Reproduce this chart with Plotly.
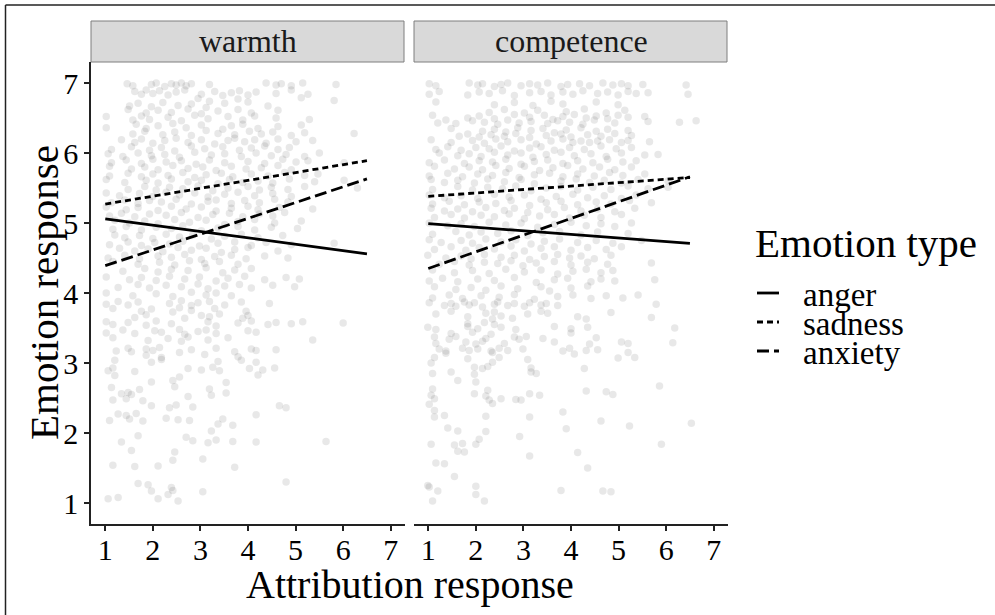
import plotly.graph_objects as go

W, H = 995, 615
FONT = "Liberation Serif"

# ---------------- data ----------------
panels = ["warmth", "competence"]
emotions = ["anger", "sadness", "anxiety"]
dashes = {"anger": "solid", "sadness": "6px,4px", "anxiety": "12px,5px"}

fit_x = [1.0, 6.5]
warmth_fit = {"anger": [5.06, 4.56], "sadness": [5.27, 5.89], "anxiety": [4.39, 5.63]}
competence_fit = {"anger": [4.99, 4.71], "sadness": [5.38, 5.65], "anxiety": [4.35, 5.66]}

x_ticks = [1, 2, 3, 4, 5, 6, 7]
y_ticks = [1, 2, 3, 4, 5, 6, 7]

# scatter points, written row by row (x values and matching y values)
warmth_x_rows = [
    [1.46, 1.58, 1.97, 2.07, 2.25, 2.39, 2.49, 2.60, 2.70, 2.81, 3.19, 4.38, 4.59, 4.70, 4.91, 5.15, 5.85],
    [1.62, 1.76, 1.86, 2.00, 2.14, 2.32, 2.49, 2.67, 3.02, 3.30, 3.47, 3.65, 3.82, 4.00, 4.17, 4.59, 4.91, 5.26],
    [2.95, 3.19, 3.79, 4.00, 5.12, 5.81],
    [1.51, 1.69, 1.97, 2.21, 2.53, 2.81, 3.12, 3.51, 4.42],
    [1.48, 1.86, 2.11, 2.39, 2.74, 3.02, 3.37, 3.79, 4.07, 4.63],
    [1.02, 1.58, 1.76, 1.93, 2.32, 2.60, 2.88, 3.16, 3.58, 3.89, 4.14, 4.59, 5.29],
    [1.02, 1.65, 1.86, 2.11, 2.42, 2.70, 3.02, 3.47, 3.65, 3.89, 4.21, 4.63, 5.12],
    [1.58, 1.83, 2.21, 2.46, 2.81, 3.12, 3.37, 3.72, 4.03, 4.28, 4.52, 4.91, 5.19, 6.23],
    [1.34, 1.62, 1.76, 2.00, 2.25, 2.49, 2.74, 3.02, 3.30, 3.58, 3.72, 3.93, 4.14, 4.38, 4.63, 5.01, 5.36],
    [1.13, 1.55, 1.93, 2.18, 2.46, 2.81, 3.09, 3.47, 3.82, 4.07, 4.35, 4.63, 4.87],
    [1.06, 1.37, 1.69, 1.97, 2.25, 2.56, 2.88, 3.23, 3.51, 3.86, 4.17, 4.49, 4.80, 5.19, 5.50],
    [1.13, 1.44, 1.76, 2.00, 2.28, 2.60, 2.91, 3.19, 3.51, 4.00, 4.35, 4.73, 5.01, 5.26, 6.02],
    [1.09, 1.55, 1.83, 2.11, 2.42, 2.74, 3.05, 3.33, 3.65, 3.96, 4.28, 4.63, 4.91],
    [1.09, 1.48, 1.76, 2.00, 2.32, 2.63, 2.88, 3.12, 3.44, 3.68, 4.07, 4.42, 4.77, 5.19, 5.47],
    [1.02, 1.41, 1.86, 2.11, 2.39, 2.74, 3.02, 3.37, 3.61, 3.89, 4.21, 4.52, 4.87, 5.40, 6.02],
    [1.48, 1.83, 2.07, 2.35, 2.63, 2.95, 3.26, 3.58, 4.00, 4.24, 4.49, 4.84, 5.19, 6.30],
    [1.02, 1.30, 1.72, 2.00, 2.28, 2.56, 2.88, 3.16, 3.51, 3.79, 4.14, 4.52, 4.91],
    [1.13, 1.41, 1.69, 1.93, 2.18, 2.49, 2.81, 3.16, 3.33, 3.65, 3.93, 4.24, 4.56, 4.84],
    [1.02, 1.44, 1.69, 2.11, 2.39, 2.70, 3.02, 3.33, 3.65, 4.00, 4.21, 4.66, 5.36],
    [1.09, 1.34, 1.62, 1.93, 2.28, 2.60, 2.95, 3.26, 3.61, 3.89, 4.24, 4.52, 4.77],
    [1.20, 1.51, 1.83, 2.11, 2.46, 2.77, 3.12, 3.51, 3.79, 4.14, 4.56, 5.12],
    [1.16, 1.44, 1.76, 2.07, 2.39, 2.63, 3.02, 3.37, 3.79, 4.14, 4.49, 5.04],
    [1.20, 1.41, 1.72, 2.00, 2.28, 2.56, 2.84, 3.23, 3.51, 3.86, 4.21, 4.73],
    [1.09, 1.48, 1.76, 2.04, 2.35, 2.63, 2.98, 3.37, 3.72, 4.07, 4.38, 4.91, 5.81],
    [1.30, 1.62, 1.90, 2.21, 2.53, 2.81, 3.12, 3.44, 3.72, 4.00, 4.63],
    [1.06, 1.41, 1.72, 2.11, 2.39, 2.67, 3.02, 3.30, 3.65, 3.96, 4.35, 4.84],
    [1.16, 1.69, 2.14, 2.46, 2.77, 3.09, 3.40, 3.79],
    [1.37, 1.83, 2.11, 2.39, 2.74, 3.12, 3.47, 3.72, 4.07],
    [1.02, 1.51, 1.76, 2.07, 2.35, 2.67, 2.98, 3.33, 3.58, 3.93, 4.35, 4.80, 5.08],
    [1.27, 1.69, 1.93, 2.28, 2.60, 2.95, 3.16, 3.51, 3.82, 4.07, 4.52, 4.98],
    [1.02, 1.58, 2.07, 2.42, 2.81, 3.12, 3.33, 3.65],
    [1.02, 1.27, 1.48, 1.69, 2.35, 2.60, 2.81, 2.95, 3.19, 3.51, 3.86, 4.45],
    [1.16, 1.76, 1.97, 2.42, 2.56, 2.81, 3.30, 3.96],
    [1.62, 1.86, 2.67, 3.02, 3.19, 3.40, 3.89, 4.00],
    [1.02, 1.16, 1.48, 1.86, 2.07, 2.39, 3.16, 3.33, 3.79, 4.07, 4.42, 4.59, 4.91, 5.15, 6.00],
    [1.02, 1.37, 1.62, 2.04, 2.18, 2.56, 2.67, 2.95, 3.12, 3.33, 4.00, 4.17],
    [1.16, 1.90, 2.32, 2.60, 2.74, 3.16, 3.58, 5.36],
    [1.23, 1.48, 1.55, 1.86, 2.00, 2.14, 2.56, 2.81, 3.33, 3.72, 4.07, 4.17, 4.59],
    [1.86, 2.18, 3.09, 3.79],
    [1.20, 1.97, 2.18, 3.37, 3.86, 4.17],
    [1.06, 1.16, 1.62, 2.74, 3.02, 3.26, 3.40, 4.03, 4.31, 4.56],
    [1.20, 2.56, 4.21],
    [1.97, 2.42, 3.54],
    [1.13, 1.72, 2.46, 3.19],
    [1.34, 1.48, 1.55, 3.54],
    [2.74, 3.23],
    [1.16, 1.44, 1.79],
    [1.97, 2.35, 2.49, 2.84, 4.66, 4.80],
    [1.27, 1.44, 1.65, 4.17],
    [1.09, 1.51, 1.79, 2.28, 2.53, 2.77, 3.47],
    [3.37, 3.68],
    [3.23],
    [1.69, 2.70],
    [1.34, 2.84, 3.16, 3.33, 3.68, 4.17, 5.64],
    [1.55, 2.46],
    [2.42, 3.05],
    [1.16, 1.62, 2.11, 3.72],
    [1.69, 1.90, 4.80],
    [2.39],
    [1.97, 2.42, 3.05],
    [2.32],
    [1.06, 1.27, 2.11],
    [2.53],
]
warmth_y_rows = [
    [6.99, 6.96, 6.98, 7.00, 6.95, 6.99, 6.97, 7.00, 6.96, 6.99, 6.98, 7.00, 6.97, 6.99, 6.96, 7.00, 6.98],
    [6.88, 6.84, 6.90, 6.85, 6.89, 6.83, 6.87, 6.90, 6.84, 6.88, 6.82, 6.86, 6.89, 6.83, 6.87, 6.85, 6.90, 6.84],
    [6.78, 6.74, 6.77, 6.73, 6.79, 6.75],
    [6.67, 6.71, 6.66, 6.72, 6.68, 6.70, 6.65, 6.71, 6.67],
    [6.62, 6.57, 6.61, 6.58, 6.63, 6.56, 6.60, 6.62, 6.57, 6.61],
    [6.52, 6.47, 6.53, 6.48, 6.51, 6.46, 6.54, 6.49, 6.52, 6.47, 6.53, 6.50, 6.48],
    [6.36, 6.41, 6.35, 6.39, 6.42, 6.36, 6.40, 6.34, 6.39, 6.41, 6.35, 6.38, 6.40],
    [6.27, 6.31, 6.26, 6.30, 6.25, 6.32, 6.28, 6.26, 6.31, 6.27, 6.30, 6.25, 6.29, 6.28],
    [6.19, 6.15, 6.20, 6.14, 6.18, 6.21, 6.15, 6.19, 6.13, 6.18, 6.21, 6.16, 6.19, 6.14, 6.20, 6.16, 6.18],
    [6.05, 6.09, 6.04, 6.08, 6.03, 6.10, 6.06, 6.09, 6.04, 6.07, 6.10, 6.05, 6.08],
    [5.99, 5.95, 6.00, 5.96, 5.98, 5.94, 6.01, 5.97, 5.99, 5.95, 6.00, 5.96, 5.98, 5.95, 6.00],
    [5.86, 5.90, 5.85, 5.91, 5.87, 5.89, 5.84, 5.90, 5.86, 5.88, 5.85, 5.91, 5.87, 5.89, 5.86],
    [5.81, 5.77, 5.80, 5.76, 5.82, 5.78, 5.80, 5.75, 5.81, 5.77, 5.79, 5.82, 5.76],
    [5.67, 5.71, 5.66, 5.70, 5.68, 5.72, 5.65, 5.69, 5.71, 5.66, 5.70, 5.67, 5.72, 5.68, 5.70],
    [5.62, 5.58, 5.61, 5.57, 5.63, 5.59, 5.61, 5.56, 5.62, 5.58, 5.60, 5.57, 5.63, 5.59, 5.61],
    [5.48, 5.52, 5.47, 5.51, 5.49, 5.53, 5.46, 5.50, 5.52, 5.47, 5.51, 5.48, 5.52, 5.50],
    [5.43, 5.39, 5.42, 5.38, 5.44, 5.40, 5.43, 5.37, 5.41, 5.44, 5.39, 5.42, 5.38],
    [5.29, 5.33, 5.28, 5.32, 5.30, 5.34, 5.27, 5.31, 5.33, 5.28, 5.32, 5.29, 5.34, 5.30],
    [5.23, 5.19, 5.22, 5.18, 5.24, 5.20, 5.23, 5.17, 5.21, 5.24, 5.19, 5.22, 5.20],
    [5.10, 5.14, 5.09, 5.13, 5.11, 5.15, 5.08, 5.12, 5.14, 5.09, 5.13, 5.10, 5.15],
    [5.04, 5.00, 5.03, 4.99, 5.05, 5.01, 5.04, 4.98, 5.02, 5.05, 5.00, 5.03],
    [4.91, 4.95, 4.90, 4.94, 4.92, 4.96, 4.89, 4.93, 4.95, 4.90, 4.94, 4.92],
    [4.83, 4.79, 4.82, 4.78, 4.84, 4.80, 4.83, 4.77, 4.81, 4.84, 4.79, 4.82],
    [4.69, 4.73, 4.68, 4.72, 4.70, 4.74, 4.67, 4.71, 4.73, 4.68, 4.72, 4.69, 4.71],
    [4.64, 4.60, 4.63, 4.59, 4.65, 4.61, 4.64, 4.58, 4.62, 4.65, 4.60],
    [4.50, 4.54, 4.49, 4.53, 4.51, 4.55, 4.48, 4.52, 4.54, 4.49, 4.53, 4.50],
    [4.45, 4.41, 4.44, 4.40, 4.46, 4.42, 4.45, 4.41],
    [4.31, 4.35, 4.30, 4.34, 4.32, 4.36, 4.29, 4.33, 4.35],
    [4.23, 4.19, 4.22, 4.18, 4.24, 4.20, 4.23, 4.17, 4.21, 4.24, 4.19, 4.22, 4.20],
    [4.08, 4.12, 4.07, 4.11, 4.09, 4.13, 4.06, 4.10, 4.12, 4.07, 4.11, 4.09],
    [4.00, 3.96, 3.99, 3.95, 4.01, 3.97, 4.00, 3.96],
    [3.84, 3.88, 3.83, 3.87, 3.85, 3.89, 3.82, 3.86, 3.88, 3.83, 3.87, 3.85],
    [3.78, 3.74, 3.77, 3.73, 3.79, 3.75, 3.78, 3.74],
    [3.65, 3.69, 3.64, 3.68, 3.66, 3.70, 3.64, 3.68],
    [3.59, 3.55, 3.58, 3.54, 3.60, 3.56, 3.59, 3.53, 3.57, 3.60, 3.55, 3.58, 3.56, 3.59, 3.57],
    [3.43, 3.47, 3.42, 3.46, 3.44, 3.48, 3.41, 3.45, 3.47, 3.42, 3.46, 3.44],
    [3.36, 3.32, 3.35, 3.31, 3.37, 3.33, 3.36, 3.33],
    [3.17, 3.21, 3.16, 3.20, 3.18, 3.22, 3.15, 3.19, 3.21, 3.16, 3.20, 3.18, 3.19],
    [3.11, 3.08, 3.12, 3.09],
    [3.04, 3.01, 3.05, 3.02, 3.04, 3.01],
    [2.89, 2.93, 2.88, 2.92, 2.90, 2.94, 2.89, 2.92, 2.90, 2.93],
    [2.82, 2.80, 2.83],
    [2.73, 2.75, 2.72],
    [2.65, 2.62, 2.66, 2.63],
    [2.56, 2.58, 2.55, 2.57],
    [2.52, 2.54],
    [2.47, 2.49, 2.46],
    [2.39, 2.36, 2.40, 2.37, 2.39, 2.36],
    [2.27, 2.25, 2.28, 2.26],
    [2.18, 2.20, 2.17, 2.21, 2.19, 2.18, 2.20],
    [2.13, 2.11],
    [2.03],
    [1.96, 1.94],
    [1.87, 1.89, 1.86, 1.90, 1.88, 1.87, 1.88],
    [1.75, 1.73],
    [1.61, 1.63],
    [1.54, 1.52, 1.53, 1.51],
    [1.28, 1.26, 1.30],
    [1.22],
    [1.17, 1.18, 1.16],
    [1.12],
    [1.06, 1.08, 1.06],
    [1.03],
]

competence_x_rows = [
    [1.02, 1.16, 1.86, 2.04, 2.14, 2.39, 2.53, 2.67, 2.95, 3.13, 3.30, 3.51, 3.79, 3.93, 4.18, 4.39, 4.67, 4.88, 5.06, 5.20, 5.51, 6.42],
    [1.02, 1.23, 1.83, 2.07, 2.28, 2.56, 2.81, 3.13, 3.37, 3.58, 3.83, 4.04, 4.25, 4.56, 4.77, 4.99, 5.20, 5.37, 5.62, 6.46],
    [1.16, 2.39, 2.81, 3.20, 3.58, 3.83, 4.53, 4.99],
    [2.28, 2.60, 3.02, 3.30, 3.90, 4.28, 4.74, 5.13],
    [1.09, 1.83, 2.07, 2.39, 2.81, 3.13, 3.44, 3.62, 3.83, 4.07, 4.32, 4.53, 4.77, 4.99, 5.20, 5.55],
    [1.20, 1.37, 1.58, 1.93, 2.18, 2.46, 2.67, 2.91, 3.16, 3.51, 3.72, 3.97, 4.25, 4.49, 4.92, 5.62, 6.28, 6.63],
    [1.48, 2.14, 2.39, 2.63, 2.88, 3.16, 3.41, 3.65, 3.90, 4.21, 4.53, 4.77, 5.20],
    [1.65, 1.83, 2.07, 2.32, 2.60, 2.84, 3.13, 3.48, 3.79, 4.00, 4.35, 4.63, 4.92, 5.27],
    [1.06, 1.48, 1.93, 2.18, 2.42, 2.67, 2.95, 3.27, 3.58, 3.83, 4.04, 4.21, 4.39, 4.56, 4.81, 5.06, 5.20, 5.65],
    [1.16, 1.41, 1.69, 2.00, 2.28, 2.53, 2.81, 3.13, 3.37, 3.65, 3.97, 4.28, 4.63, 4.95, 5.27],
    [1.23, 1.62, 1.86, 2.11, 2.39, 2.67, 2.95, 3.20, 3.48, 3.79, 4.07, 4.42, 4.74, 5.06, 5.55, 5.83],
    [1.02, 1.34, 1.76, 2.07, 2.35, 2.63, 2.95, 3.23, 3.51, 3.83, 4.14, 4.46, 4.77, 5.09, 5.37],
    [1.13, 1.55, 1.86, 2.14, 2.42, 2.70, 3.02, 3.34, 3.62, 3.93, 4.25, 4.60, 4.92, 5.27],
    [1.02, 1.41, 1.72, 2.04, 2.35, 2.63, 2.91, 3.23, 3.55, 3.83, 4.14, 4.49, 4.81, 5.09, 5.55],
    [1.06, 1.34, 1.62, 1.97, 2.25, 2.60, 2.95, 3.23, 3.79, 4.11, 4.39, 4.70, 5.06, 5.41, 6.04],
    [1.09, 1.62, 1.93, 2.25, 2.56, 2.84, 3.16, 3.48, 3.79, 4.14, 4.46, 4.84, 5.20, 5.62, 6.04],
    [1.02, 1.34, 1.69, 2.04, 2.39, 2.70, 3.02, 3.37, 3.69, 4.04, 4.35, 4.70, 5.06, 5.37],
    [1.09, 1.44, 1.76, 2.07, 2.42, 2.74, 3.13, 3.48, 3.79, 4.14, 4.53, 4.84, 5.23, 5.69],
    [1.06, 1.34, 1.62, 1.93, 2.21, 2.60, 2.81, 3.09, 3.51, 3.86, 4.21, 4.56, 4.92, 5.34],
    [1.13, 1.48, 1.76, 2.11, 2.39, 2.70, 3.02, 3.34, 3.65, 3.97, 4.28, 4.63, 5.06],
    [1.02, 1.41, 1.69, 1.97, 2.28, 2.63, 2.95, 3.30, 3.65, 4.00, 4.32, 4.63, 4.92, 5.27],
    [1.09, 1.58, 1.86, 2.11, 2.46, 2.74, 3.09, 3.41, 3.76, 4.21, 4.56, 5.20],
    [1.02, 1.27, 1.69, 1.93, 2.21, 2.53, 2.84, 3.16, 3.44, 3.76, 4.14, 4.53, 4.88, 5.48],
    [1.13, 1.48, 1.79, 2.07, 2.39, 2.74, 3.02, 3.37, 3.65, 4.00, 4.35, 4.74, 5.06],
    [0.99, 1.37, 1.69, 1.90, 2.18, 2.53, 2.81, 3.13, 3.44, 3.72, 3.97, 4.21, 4.49, 4.84],
    [1.23, 1.55, 1.86, 2.18, 2.46, 2.74, 2.99, 3.27, 3.65, 4.00, 4.35, 4.77, 5.69],
    [1.09, 1.55, 1.93, 2.28, 2.63, 3.02, 3.37, 3.72, 4.04, 4.32, 4.63, 4.88],
    [1.02, 1.30, 1.62, 2.04, 2.39, 2.81, 3.27, 3.65, 3.93, 4.42, 4.63, 4.92, 5.76],
    [1.13, 1.58, 1.90, 2.21, 2.53, 2.88, 3.37, 3.55, 4.00, 4.35],
    [1.09, 1.44, 1.72, 2.11, 2.49, 2.81, 3.23, 3.72, 4.04, 4.42, 4.74, 5.09, 5.41],
    [1.02, 1.34, 1.48, 1.58, 1.76, 1.86, 1.97, 2.14, 2.39, 2.46, 2.67, 2.81, 3.02, 3.13, 3.37, 3.48, 3.72, 5.79],
    [1.16, 1.48, 2.21, 2.39, 3.09, 3.37, 3.51, 4.84],
    [1.83, 2.35, 2.53, 2.77, 4.14, 4.32, 5.69],
    [1.83, 2.18, 2.39],
    [0.99, 1.16, 1.83, 2.04, 2.53, 2.84, 3.65, 4.00, 4.35, 6.18],
    [1.48, 1.93, 2.32, 4.00],
    [1.13, 1.44, 1.58, 2.21, 2.81, 2.91, 3.06, 3.41, 4.53],
    [1.16, 1.79, 2.00, 2.14, 2.60, 3.65, 4.39, 5.06, 5.20, 6.14],
    [1.23, 1.37, 1.72, 1.86, 2.04, 2.32, 2.49, 2.67, 2.99, 3.83, 3.97, 4.32, 4.56],
    [1.37, 2.35, 4.07, 5.20],
    [1.13, 1.83, 2.49, 3.09, 4.99, 5.34],
    [1.06, 2.35],
    [1.97, 2.14, 2.25, 3.16, 4.28],
    [1.09, 1.48, 1.97, 3.16, 3.27],
    [1.62, 2.00],
    [5.86],
    [1.09, 2.25],
    [4.32, 4.74],
    [1.06, 1.97, 2.21, 3.13, 3.34, 4.88],
    [1.13, 2.28, 2.53, 2.84, 2.95],
    [1.02, 2.35],
    [1.13, 3.83],
    [1.13, 1.34, 2.21, 3.13],
    [4.63],
    [6.53],
    [5.23],
    [1.41, 3.90],
    [1.62, 2.21],
    [2.92],
    [2.07],
    [1.06, 1.55, 1.72, 2.00, 5.90],
    [1.62, 1.76],
    [4.14],
    [3.13],
    [1.16, 1.34],
    [4.35],
    [1.55],
    [0.99, 1.02, 2.00],
    [1.20, 3.79, 4.67, 4.84],
    [2.00],
    [1.09, 2.18],
]
competence_y_rows = [
    [6.99, 6.96, 7.00, 6.97, 6.99, 6.95, 6.98, 7.00, 6.96, 6.99, 6.97, 7.00, 6.95, 6.98, 6.99, 6.96, 7.00, 6.97, 6.99, 6.96, 6.98, 6.97],
    [6.84, 6.88, 6.83, 6.87, 6.85, 6.89, 6.82, 6.86, 6.88, 6.83, 6.87, 6.84, 6.89, 6.85, 6.87, 6.83, 6.88, 6.85, 6.86, 6.84],
    [6.73, 6.69, 6.72, 6.68, 6.74, 6.70, 6.73, 6.69],
    [6.58, 6.62, 6.57, 6.61, 6.59, 6.63, 6.57, 6.61],
    [6.54, 6.50, 6.53, 6.49, 6.55, 6.51, 6.54, 6.48, 6.52, 6.55, 6.50, 6.53, 6.49, 6.54, 6.51, 6.52],
    [6.43, 6.47, 6.42, 6.46, 6.44, 6.41, 6.47, 6.43, 6.45, 6.42, 6.46, 6.44, 6.41, 6.47, 6.43, 6.45, 6.44, 6.46],
    [6.35, 6.31, 6.34, 6.30, 6.36, 6.32, 6.35, 6.29, 6.33, 6.36, 6.31, 6.34, 6.32],
    [6.24, 6.27, 6.23, 6.26, 6.24, 6.28, 6.22, 6.25, 6.27, 6.23, 6.26, 6.24, 6.28, 6.25],
    [6.19, 6.15, 6.18, 6.14, 6.20, 6.16, 6.19, 6.13, 6.17, 6.20, 6.15, 6.17, 6.15, 6.17, 6.19, 6.15, 6.18, 6.16],
    [6.05, 6.09, 6.04, 6.08, 6.06, 6.10, 6.03, 6.07, 6.09, 6.04, 6.08, 6.05, 6.10, 6.06, 6.08],
    [6.00, 5.96, 5.99, 5.95, 6.01, 5.97, 6.00, 5.94, 5.98, 6.01, 5.96, 5.99, 5.95, 6.00, 5.97, 5.98],
    [5.86, 5.90, 5.85, 5.89, 5.87, 5.91, 5.84, 5.88, 5.90, 5.85, 5.89, 5.86, 5.91, 5.87, 5.89],
    [5.81, 5.77, 5.80, 5.76, 5.82, 5.78, 5.81, 5.75, 5.79, 5.82, 5.77, 5.80, 5.76, 5.80],
    [5.67, 5.71, 5.66, 5.70, 5.68, 5.72, 5.65, 5.69, 5.71, 5.66, 5.70, 5.67, 5.72, 5.68, 5.70],
    [5.62, 5.58, 5.61, 5.57, 5.63, 5.59, 5.62, 5.56, 5.60, 5.63, 5.58, 5.61, 5.57, 5.62, 5.60],
    [5.48, 5.52, 5.47, 5.51, 5.49, 5.53, 5.46, 5.50, 5.52, 5.47, 5.51, 5.48, 5.53, 5.49, 5.51],
    [5.40, 5.36, 5.39, 5.35, 5.41, 5.37, 5.40, 5.34, 5.38, 5.41, 5.36, 5.39, 5.35, 5.40],
    [5.27, 5.31, 5.26, 5.30, 5.28, 5.32, 5.25, 5.29, 5.31, 5.26, 5.30, 5.27, 5.32, 5.29],
    [5.21, 5.17, 5.20, 5.16, 5.22, 5.18, 5.21, 5.15, 5.19, 5.22, 5.17, 5.20, 5.16, 5.21],
    [5.08, 5.12, 5.07, 5.11, 5.09, 5.13, 5.06, 5.10, 5.12, 5.07, 5.11, 5.08, 5.12],
    [5.00, 4.96, 4.99, 4.95, 5.01, 4.97, 5.00, 4.94, 4.98, 5.01, 4.96, 4.99, 4.95, 5.00],
    [4.84, 4.88, 4.83, 4.87, 4.85, 4.89, 4.82, 4.86, 4.88, 4.83, 4.87, 4.85],
    [4.76, 4.72, 4.75, 4.71, 4.77, 4.73, 4.76, 4.70, 4.74, 4.77, 4.72, 4.75, 4.71, 4.75],
    [4.62, 4.66, 4.61, 4.65, 4.63, 4.67, 4.60, 4.64, 4.66, 4.61, 4.65, 4.62, 4.66],
    [4.54, 4.50, 4.53, 4.49, 4.55, 4.51, 4.54, 4.48, 4.52, 4.55, 4.50, 4.53, 4.49, 4.54],
    [4.41, 4.45, 4.40, 4.44, 4.42, 4.46, 4.39, 4.43, 4.45, 4.40, 4.44, 4.41, 4.43],
    [4.33, 4.29, 4.32, 4.28, 4.34, 4.30, 4.33, 4.27, 4.31, 4.34, 4.29, 4.32],
    [4.17, 4.21, 4.16, 4.20, 4.18, 4.22, 4.15, 4.19, 4.21, 4.16, 4.20, 4.17, 4.19],
    [4.09, 4.05, 4.08, 4.04, 4.10, 4.06, 4.09, 4.03, 4.07, 4.10],
    [3.93, 3.97, 3.92, 3.96, 3.94, 3.98, 3.91, 3.95, 3.97, 3.92, 3.96, 3.93, 3.97],
    [3.86, 3.82, 3.85, 3.81, 3.87, 3.83, 3.86, 3.80, 3.84, 3.87, 3.82, 3.85, 3.81, 3.86, 3.83, 3.85, 3.82, 3.84],
    [3.70, 3.74, 3.71, 3.73, 3.70, 3.74, 3.71, 3.72],
    [3.66, 3.63, 3.67, 3.64, 3.66, 3.63, 3.65],
    [3.56, 3.58, 3.55],
    [3.51, 3.48, 3.52, 3.49, 3.51, 3.48, 3.52, 3.49, 3.51, 3.50],
    [3.42, 3.44, 3.41, 3.43],
    [3.37, 3.34, 3.38, 3.35, 3.37, 3.34, 3.38, 3.35, 3.36],
    [3.28, 3.30, 3.27, 3.31, 3.28, 3.30, 3.27, 3.30, 3.28, 3.29],
    [3.20, 3.17, 3.21, 3.18, 3.20, 3.17, 3.21, 3.18, 3.20, 3.17, 3.21, 3.18, 3.19],
    [3.14, 3.15, 3.13, 3.15],
    [3.08, 3.06, 3.08, 3.05, 3.07, 3.08],
    [3.00, 3.01],
    [2.94, 2.92, 2.95, 2.93, 2.92],
    [2.85, 2.87, 2.84, 2.87, 2.85],
    [2.75, 2.73],
    [2.67],
    [2.63, 2.61],
    [2.60, 2.59],
    [2.54, 2.56, 2.53, 2.56, 2.54, 2.55],
    [2.49, 2.47, 2.49, 2.48, 2.47],
    [2.41, 2.42],
    [2.32, 2.30],
    [2.23, 2.25, 2.24, 2.23],
    [2.17],
    [2.14],
    [2.10],
    [2.07, 2.06],
    [2.03, 2.02],
    [1.95],
    [1.91],
    [1.84, 1.83, 1.85, 1.84, 1.84],
    [1.74, 1.73],
    [1.72],
    [1.67],
    [1.57, 1.56],
    [1.50],
    [1.38],
    [1.25, 1.23, 1.24],
    [1.17, 1.18, 1.17, 1.16],
    [1.12],
    [1.03, 1.03],
]


def flatten(x_rows, y_rows):
    xs, ys = [], []
    for xr, yr in zip(x_rows, y_rows):
        for x, y in zip(xr, yr):
            xs.append(x)
            ys.append(y)
    return xs, ys


scatter = {
    "warmth": flatten(warmth_x_rows, warmth_y_rows),
    "competence": flatten(competence_x_rows, competence_y_rows),
}
fits = {"warmth": warmth_fit, "competence": competence_fit}


# ---------------- figure ----------------
def px_x(p):
    return p / W


def px_y(p):
    return 1 - p / H


fig = go.Figure()
axes = [("x", "y"), ("x2", "y2")]
for (xa, ya), panel in zip(axes, panels):
    xs, ys = scatter[panel]
    fig.add_trace(go.Scatter(
        x=xs, y=ys, mode="markers", xaxis=xa, yaxis=ya,
        marker=dict(size=7.5, color="rgba(0,0,0,0.09)", line=dict(width=0)),
        showlegend=False, hoverinfo="skip"))
    for emo in emotions:
        fig.add_trace(go.Scatter(
            x=fit_x, y=fits[panel][emo], mode="lines", xaxis=xa, yaxis=ya,
            line=dict(color="black", width=2.8, dash=dashes[emo]),
            name=emo, showlegend=False))

panel_px = [(91, 405), (414, 728)]
plot_top, plot_bot = 62, 524
ydom = [px_y(plot_bot), px_y(plot_top)]

common_x = dict(range=[0.7, 7.3], tickvals=x_ticks, ticktext=[str(t) for t in x_ticks],
                showline=True, linecolor="#222", linewidth=1.6, ticks="outside",
                ticklen=5, tickwidth=1.5, tickcolor="#222", showgrid=False, zeroline=False,
                ticklabelstandoff=-7,
                tickfont=dict(family=FONT, size=30, color="black"), fixedrange=True)
common_y = dict(range=[0.7, 7.3], tickvals=y_ticks, showgrid=False, zeroline=False, fixedrange=True)

fig.update_layout(
    xaxis=dict(domain=[px_x(panel_px[0][0]), px_x(panel_px[0][1])], anchor="y", **common_x),
    xaxis2=dict(domain=[px_x(panel_px[1][0]), px_x(panel_px[1][1])], anchor="y2", **common_x),
    yaxis=dict(domain=ydom, anchor="x", showline=True, linecolor="#222", linewidth=1.6,
               ticks="outside", ticklen=5, tickwidth=1.5, tickcolor="#222",
               ticktext=[str(t) for t in y_ticks],
               tickfont=dict(family=FONT, size=30, color="black"), **common_y),
    yaxis2=dict(domain=ydom, anchor="x2", showline=False, showticklabels=False, ticks="",
                matches="y", **common_y),
)

shapes = []
annotations = []
# facet strips
for (x0, x1), panel in zip(panel_px, panels):
    shapes.append(dict(type="rect", xref="paper", yref="paper",
                       x0=px_x(x0), x1=px_x(x1 - 1), y0=px_y(62), y1=px_y(21),
                       fillcolor="#d9d9d9", line=dict(color="#7f7f7f", width=1), layer="above"))
    annotations.append(dict(xref="paper", yref="paper", x=px_x((x0 + x1) / 2), y=px_y(41),
                            text=panel, showarrow=False, xanchor="center", yanchor="middle",
                            font=dict(family=FONT, size=32, color="#1a1a1a")))

# outer frame (top and left edges visible)
shapes.append(dict(type="line", xref="paper", yref="paper", x0=px_x(5.5), x1=1.01,
                   y0=px_y(5), y1=px_y(5), line=dict(color="#222", width=1.5)))
shapes.append(dict(type="line", xref="paper", yref="paper", x0=px_x(5.5), x1=px_x(5.5),
                   y0=px_y(5), y1=-0.01, line=dict(color="#222", width=1.5)))

# axis titles
annotations.append(dict(xref="paper", yref="paper", x=px_x(409.5), y=px_y(584),
                        text="Attribution response", showarrow=False, xanchor="center",
                        yanchor="middle", font=dict(family=FONT, size=40, color="black")))
annotations.append(dict(xref="paper", yref="paper", x=px_x(44), y=px_y(293),
                        text="Emotion response", showarrow=False, textangle=-90,
                        xanchor="center", yanchor="middle",
                        font=dict(family=FONT, size=41, color="black")))

# legend (drawn manually)
annotations.append(dict(xref="paper", yref="paper", x=px_x(753), y=px_y(243),
                        text="Emotion type", showarrow=False, xanchor="left", yanchor="middle",
                        font=dict(family=FONT, size=41, color="black")))
legend_rows = [293, 322, 351]
for emo, yy in zip(emotions, legend_rows):
    shapes.append(dict(type="line", xref="paper", yref="paper",
                       x0=px_x(757), x1=px_x(779), y0=px_y(yy), y1=px_y(yy),
                       line=dict(color="black", width=2.8, dash=dashes[emo])))
    annotations.append(dict(xref="paper", yref="paper", x=px_x(801), y=px_y(yy + 2),
                            text=emo, showarrow=False, xanchor="left", yanchor="middle",
                            font=dict(family=FONT, size=33, color="black")))

fig.update_layout(
    width=W, height=H, margin=dict(l=0, r=0, t=0, b=0),
    paper_bgcolor="white", plot_bgcolor="white",
    showlegend=False, shapes=shapes, annotations=annotations,
    font=dict(family=FONT),
)

fig.write_html("out.html", config={"displayModeBar": False},
               post_script="document.body.style.margin='0';")
